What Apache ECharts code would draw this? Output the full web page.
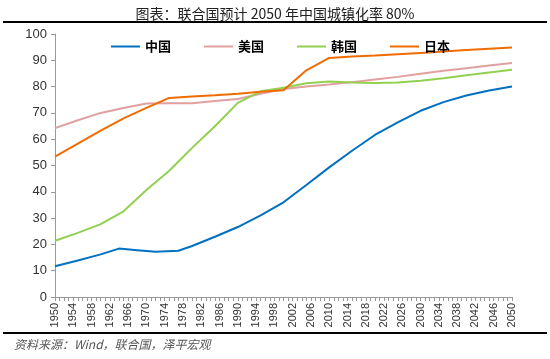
<!DOCTYPE html>
<html>
<head>
<meta charset="utf-8">
<script src="https://cdn.jsdelivr.net/npm/echarts@6/dist/echarts.min.js"></script>
<style>html,body{margin:0;padding:0;background:#fff}#c{width:550px;height:359px}</style>
</head>
<body>
<div id="c"></div>
<script>
var years = [1950,1955,1960,1965,1970,1975,1980,1985,1990,1995,2000,2005,2010,2015,2020,2025,2030,2035,2040,2045,2050];
var chinaYears = [1950,1955,1960,1964,1968,1972,1977,1980,1985,1990,1995,2000,2005,2010,2015,2020,2025,2030,2035,2040,2045,2050];
var china = [11.7,13.9,16.2,18.4,17.8,17.2,17.6,19.4,22.9,26.6,31.0,36.0,42.6,49.3,55.6,61.6,66.4,70.8,74.1,76.6,78.5,80.0];
var usa = [64.2,67.2,70.0,71.9,73.6,73.7,73.7,74.5,75.3,77.3,79.1,80.0,80.8,81.7,82.7,83.7,84.9,86.0,87.0,88.0,89.0];
var korea = [21.4,24.4,27.7,32.6,40.7,48.0,56.7,64.9,73.8,78.2,79.6,81.3,81.9,81.6,81.4,81.6,82.2,83.2,84.3,85.4,86.4];
var japan = [53.4,58.3,63.3,67.9,71.9,75.7,76.2,76.7,77.3,78.0,78.6,86.2,90.9,91.4,91.8,92.3,92.8,93.3,93.9,94.4,94.9];
var names = ['中国','美国','韩国','日本'];
var colors = ['#0070C0','#E0A0A0','#92D050','#F06C00'];

function pairs(xs, vs){ return xs.map(function(x,i){return [x, vs[i]];}); }

var chart = echarts.init(document.getElementById('c'));
chart.setOption({
  animation:false,
  title:{text:'图表：联合国预计 2050 年中国城镇化率 80%', left:'center', top:2,
    textStyle:{fontSize:14, fontWeight:'normal', color:'#222', fontFamily:'Noto Sans CJK SC'}},
  legend:{top:35, left:106, itemWidth:29, itemHeight:2, itemGap:33, icon:'rect',
    textStyle:{fontSize:13, color:'#000', fontWeight:'bold', fontFamily:'Noto Sans CJK SC'},
    data:names},
  grid:{left:55, right:38, top:34, bottom:62},
  xAxis:{type:'value', min:1950, max:2050, interval:4,
    axisLine:{lineStyle:{color:'#999'}},
    axisTick:{show:true, length:4, lineStyle:{color:'#999'}},
    minorTick:{show:true, splitNumber:4, length:4, lineStyle:{color:'#999'}},
    splitLine:{show:false},
    axisLabel:{rotate:90, fontSize:11, color:'#333', fontFamily:'Liberation Sans', margin:6,
      formatter:function(v){return String(v);}}},
  yAxis:{type:'value', min:0, max:100, interval:10,
    axisLine:{show:true, lineStyle:{color:'#999'}},
    axisTick:{show:true, length:4, lineStyle:{color:'#999'}},
    splitLine:{show:false},
    axisLabel:{fontSize:13, color:'#333', fontFamily:'Liberation Sans', margin:8}},
  graphic:[
    {type:'rect', shape:{x:3, y:21, width:544, height:2}, style:{fill:'#000'}},
    {type:'rect', shape:{x:3, y:332, width:544, height:2}, style:{fill:'#000'}},
    {type:'text', left:14, top:338, style:{text:'资料来源：Wind，联合国，泽平宏观', fontSize:12, fontStyle:'italic', fill:'#555', fontFamily:'Noto Sans CJK SC'}}
  ],
  series:[
    {name:names[0], type:'line', data:pairs(chinaYears, china), symbol:'none', lineStyle:{width:2, color:colors[0]}, itemStyle:{color:colors[0]}},
    {name:names[1], type:'line', data:pairs(years, usa), symbol:'none', lineStyle:{width:2, color:colors[1]}, itemStyle:{color:colors[1]}},
    {name:names[2], type:'line', data:pairs(years, korea), symbol:'none', lineStyle:{width:2, color:colors[2]}, itemStyle:{color:colors[2]}},
    {name:names[3], type:'line', data:pairs(years, japan), symbol:'none', lineStyle:{width:2, color:colors[3]}, itemStyle:{color:colors[3]}}
  ]
});
</script>
</body>
</html>
